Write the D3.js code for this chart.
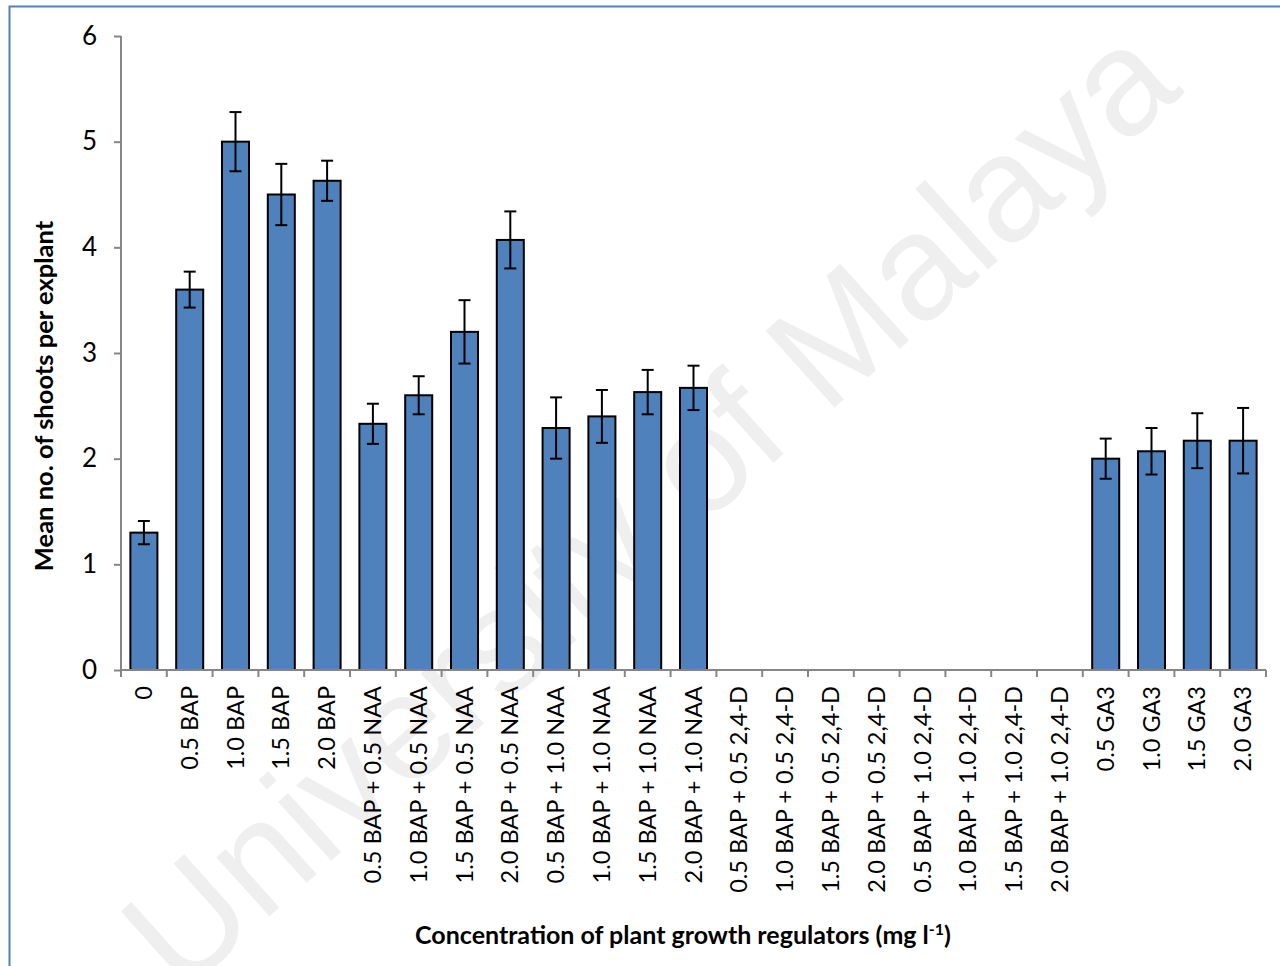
<!DOCTYPE html>
<html>
<head>
<meta charset="utf-8">
<script src="https://cdn.jsdelivr.net/npm/d3@7"></script>
<style>
  body { margin: 0; background: #fff; }
  svg { display: block; }
</style>
</head>
<body>
<div id="chart"></div>
<script>
// treatments on the x axis
var categories = [
  '0', '0.5 BAP', '1.0 BAP', '1.5 BAP', '2.0 BAP',
  '0.5 BAP + 0.5 NAA', '1.0 BAP + 0.5 NAA', '1.5 BAP + 0.5 NAA', '2.0 BAP + 0.5 NAA',
  '0.5 BAP + 1.0 NAA', '1.0 BAP + 1.0 NAA', '1.5 BAP + 1.0 NAA', '2.0 BAP + 1.0 NAA',
  '0.5 BAP + 0.5 2,4-D', '1.0 BAP + 0.5 2,4-D', '1.5 BAP + 0.5 2,4-D', '2.0 BAP + 0.5 2,4-D',
  '0.5 BAP + 1.0 2,4-D', '1.0 BAP + 1.0 2,4-D', '1.5 BAP + 1.0 2,4-D', '2.0 BAP + 1.0 2,4-D',
  '0.5 GA3', '1.0 GA3', '1.5 GA3', '2.0 GA3'
];
// mean no. of shoots per explant
var means = [
  1.3, 3.6, 5.0, 4.5, 4.63,
  2.33, 2.6, 3.2, 4.07,
  2.29, 2.4, 2.63, 2.67,
  0, 0, 0, 0,
  0, 0, 0, 0,
  2.0, 2.07, 2.17, 2.17
];
// standard error
var errors = [
  0.11, 0.17, 0.28, 0.29, 0.19,
  0.19, 0.18, 0.3, 0.27,
  0.29, 0.25, 0.21, 0.21,
  0, 0, 0, 0,
  0, 0, 0, 0,
  0.19, 0.22, 0.26, 0.31
];
var yTicks = [0, 1, 2, 3, 4, 5, 6];

var W = 1280, H = 966;
var mLeft = 121, mRight = 1266, mTop = 36, mBottom = 670;

var svg = d3.select('#chart').append('svg')
  .attr('width', W)
  .attr('height', H);

// watermark goes underneath everything (it runs off the page in the original too)
svg.append('text')
  .attr('transform', 'translate(648,505) rotate(-42)')
  .attr('text-anchor', 'middle')
  .attr('dy', '0.35em')
  .style('font-family', '"Liberation Sans", Arial, sans-serif')
  .style('font-size', '150px')
  .style('fill', '#efefef')
  .text('University of Malaya');

// outer frame (only top and left edges show in the picture)
svg.append('rect')
  .attr('x', 9.5).attr('y', 6.5)
  .attr('width', W + 20).attr('height', H + 20)
  .style('fill', 'none')
  .style('stroke', '#4f81bd')
  .style('stroke-width', 2);

var x = d3.scaleBand()
  .domain(categories)
  .range([mLeft, mRight])
  .paddingInner(0.41)
  .paddingOuter(0.205);

var y = d3.scaleLinear()
  .domain([0, 6])
  .range([mBottom, mTop]);

var font = 'Lato, "Open Sans", sans-serif';
var axisColor = '#868686';

// y axis
var yAxis = svg.append('g')
  .attr('transform', 'translate(' + mLeft + ',0)')
  .call(d3.axisLeft(y).tickValues(yTicks).tickFormat(d3.format('d')).tickSize(7).tickPadding(17));
yAxis.select('.domain').attr('d', 'M0,' + mTop + 'V' + mBottom);
yAxis.selectAll('line, path').style('stroke', axisColor).style('stroke-width', 2);
yAxis.selectAll('text')
  .style('font-family', font)
  .style('font-size', '26px')
  .style('fill', '#000');

// bars
svg.selectAll('.bar')
  .data(means)
  .enter()
  .append('rect')
  .classed('bar', true)
  .attr('x', function(d, i) { return x(categories[i]); })
  .attr('y', function(d) { return y(d); })
  .attr('width', x.bandwidth())
  .attr('height', function(d) { return mBottom - y(d); })
  .style('display', function(d) { return d > 0 ? null : 'none'; })
  .style('fill', '#4f81bd')
  .style('stroke', '#000')
  .style('stroke-width', 2);

// x axis with ticks between categories
var xg = svg.append('g');
xg.append('line')
  .attr('x1', mLeft).attr('x2', mRight)
  .attr('y1', mBottom).attr('y2', mBottom)
  .style('stroke', axisColor).style('stroke-width', 2);
var step = x.step();
var bounds = d3.range(categories.length + 1).map(function(i) {
  return mLeft + i * step;
});
xg.selectAll('.xtick')
  .data(bounds)
  .enter()
  .append('line')
  .attr('x1', function(d) { return d; })
  .attr('x2', function(d) { return d; })
  .attr('y1', mBottom).attr('y2', mBottom + 7)
  .style('stroke', axisColor).style('stroke-width', 2);

// error bars
svg.selectAll('.err')
  .data(means)
  .enter()
  .append('g')
  .classed('err', true)
  .each(function(d, i) {
    var e = errors[i];
    if (!e) return;
    var cx = x(categories[i]) + x.bandwidth() / 2;
    var g = d3.select(this);
    g.append('line')
      .attr('x1', cx).attr('x2', cx)
      .attr('y1', y(d + e)).attr('y2', y(d - e));
    g.append('line')
      .attr('x1', cx - 6).attr('x2', cx + 6)
      .attr('y1', y(d + e)).attr('y2', y(d + e));
    g.append('line')
      .attr('x1', cx - 6).attr('x2', cx + 6)
      .attr('y1', y(d - e)).attr('y2', y(d - e));
    g.selectAll('line').style('stroke', '#000').style('stroke-width', 2);
  });

// category labels, rotated
svg.selectAll('.xlabel')
  .data(categories)
  .enter()
  .append('text')
  .classed('xlabel', true)
  .attr('transform', function(d) {
    return 'translate(' + (x(d) + x.bandwidth() / 2 + 8) + ',' + (mBottom + 16) + ') rotate(-90)';
  })
  .attr('text-anchor', 'end')
  .style('font-family', font)
  .style('font-size', '23.5px')
  .text(function(d) { return d; });

// axis titles
svg.append('text')
  .attr('transform', 'translate(53,396) rotate(-90)')
  .attr('text-anchor', 'middle')
  .style('font-family', font)
  .style('font-weight', 'bold')
  .style('font-size', '25.5px')
  .text('Mean no. of shoots per explant');

var xt = svg.append('text')
  .attr('x', 683).attr('y', 944)
  .attr('text-anchor', 'middle')
  .style('font-family', font)
  .style('font-weight', 'bold')
  .style('font-size', '25px');
xt.append('tspan').text('Concentration of plant growth regulators (mg l');
xt.append('tspan').attr('dy', -9).style('font-size', '16px').text('-1');
xt.append('tspan').attr('dy', 9).text(')');
</script>
</body>
</html>
